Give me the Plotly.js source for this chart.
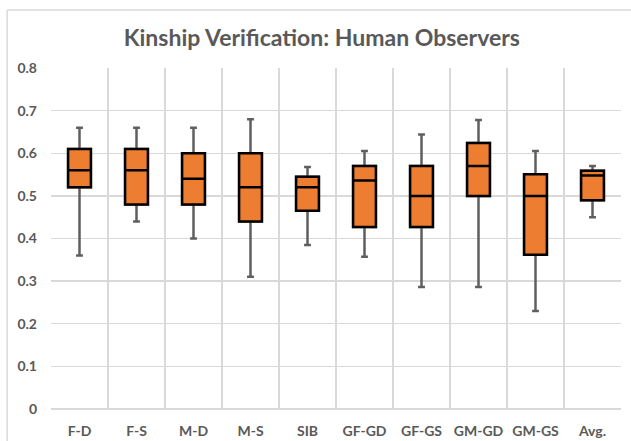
<!DOCTYPE html>
<html>
<head>
<meta charset="utf-8">
<script src="https://cdn.plot.ly/plotly-3.0.1.min.js"></script>
<style>html,body{margin:0;padding:0;background:#fff;}#chart{width:631px;height:441px;}</style>
</head>
<body>
<div id="chart"></div>
<script>
const categories = ["F-D","F-S","M-D","M-S","SIB","GF-GD","GF-GS","GM-GD","GM-GS","Avg."];
const lowerWhisker = [0.36, 0.44, 0.40, 0.31, 0.385, 0.357, 0.286, 0.286, 0.23, 0.45];
const q1Values     = [0.52, 0.48, 0.48, 0.44, 0.465, 0.427, 0.427, 0.50, 0.362, 0.49];
const medianValues = [0.56, 0.56, 0.54, 0.52, 0.52, 0.536, 0.50, 0.57, 0.50, 0.548];
const q3Values     = [0.61, 0.61, 0.60, 0.60, 0.545, 0.57, 0.57, 0.624, 0.551, 0.559];
const upperWhisker = [0.66, 0.66, 0.66, 0.68, 0.568, 0.605, 0.644, 0.678, 0.605, 0.57];

const fontFam = "Lato, 'Open Sans', sans-serif";

const whiskers = {
  type: "box",
  x: categories,
  q1: q1Values, median: medianValues, q3: q3Values,
  lowerfence: lowerWhisker, upperfence: upperWhisker,
  width: 0.4, whiskerwidth: 0.3,
  line: {color: "#5f5f5f", width: 2.5},
  fillcolor: "rgba(0,0,0,0)",
  boxpoints: false, hoverinfo: "skip", showlegend: false
};
const boxes = {
  type: "box",
  x: categories,
  q1: q1Values, median: medianValues, q3: q3Values,
  lowerfence: q1Values, upperfence: q3Values,
  width: 0.4, whiskerwidth: 0,
  line: {color: "#000000", width: 2.5},
  fillcolor: "#ED7D31",
  boxpoints: false, showlegend: false
};

const layout = {
  width: 631, height: 441,
  margin: {l: 51, r: 10, t: 68, b: 32},
  paper_bgcolor: "#fff", plot_bgcolor: "#fff",
  boxmode: "overlay",
  title: {text: "<b>Kinship Verification: Human Observers</b>", x: 0.51, xanchor: "center", y: 0.914, yanchor: "middle",
          font: {family: fontFam, size: 23, color: "#595959"}},
  xaxis: {
    type: "category", range: [-0.5, 9.5], tickson: "boundaries", tickangle: 0,
    showgrid: true, gridcolor: "#d9d9d9", gridwidth: 1.3, ticks: "",
    showline: false, zeroline: false, ticklabelstandoff: 12,
    tickfont: {family: fontFam, size: 14, color: "#595959", weight: "bold"}
  },
  yaxis: {
    range: [0, 0.8], dtick: 0.1, tick0: 0,
    showgrid: true, gridcolor: "#d9d9d9", gridwidth: 1.3, zeroline: true, zerolinecolor: "#d9d9d9", zerolinewidth: 1.3,
    ticks: "", ticklabelstandoff: 13,
    tickfont: {family: fontFam, size: 14, color: "#595959", weight: "bold"}
  },
  shapes: [
    {type: "line", xref: "paper", yref: "paper", x0: -0.077, x1: 1.03, y0: 1.17, y1: 1.17, line: {color: "#d9d9d9", width: 1.5}},
    {type: "line", xref: "paper", yref: "paper", x0: -0.077, x1: -0.077, y0: 1.17, y1: -0.2, line: {color: "#d9d9d9", width: 1.5}}
  ]
};

Plotly.newPlot("chart", [whiskers, boxes], layout, {displayModeBar: false, staticPlot: true});
</script>
</body>
</html>
